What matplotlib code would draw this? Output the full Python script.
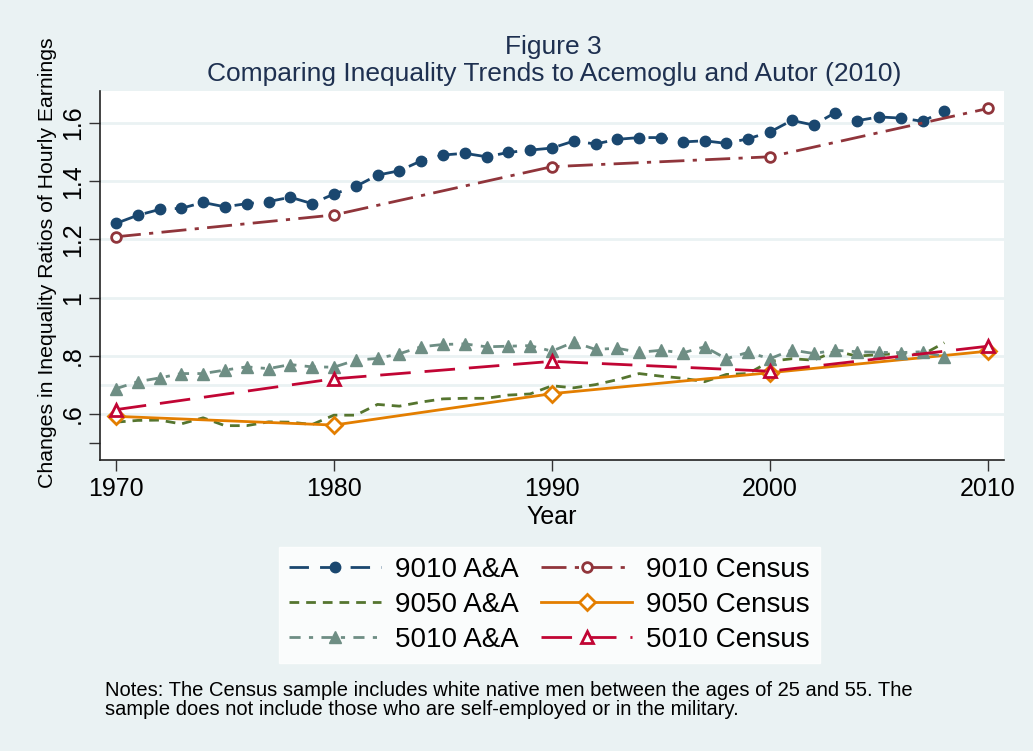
import matplotlib.pyplot as plt
import numpy as np

plt.rcParams['font.family'] = ['Liberation Sans', 'DejaVu Sans']

years_aa = np.arange(1970, 2009)
years_census = [1970, 1980, 1990, 2000, 2010]

aa_9010 = [1.255, 1.283, 1.303, 1.307, 1.327, 1.312, 1.323, 1.330, 1.345, 1.323,
           1.356, 1.382, 1.421, 1.436, 1.470, 1.490, 1.496, 1.484, 1.499, 1.507,
           1.514, 1.538, 1.528, 1.544, 1.550, 1.550, 1.535, 1.539, 1.530, 1.546,
           1.569, 1.609, 1.593, 1.636, 1.608, 1.621, 1.617, 1.606, 1.642]
aa_9050 = [0.572, 0.578, 0.579, 0.566, 0.587, 0.560, 0.560, 0.573, 0.572, 0.564,
           0.596, 0.596, 0.633, 0.627, 0.641, 0.652, 0.654, 0.654, 0.665, 0.669,
           0.697, 0.690, 0.701, 0.718, 0.739, 0.730, 0.723, 0.711, 0.736, 0.739,
           0.781, 0.790, 0.785, 0.816, 0.799, 0.804, 0.808, 0.804, 0.845]
aa_5010 = [0.687, 0.711, 0.724, 0.739, 0.739, 0.751, 0.762, 0.756, 0.770, 0.762,
           0.761, 0.785, 0.791, 0.807, 0.831, 0.839, 0.841, 0.831, 0.833, 0.835,
           0.816, 0.847, 0.822, 0.826, 0.812, 0.819, 0.810, 0.831, 0.790, 0.812,
           0.790, 0.820, 0.808, 0.819, 0.814, 0.812, 0.811, 0.814, 0.797]
census_9010 = [1.209, 1.284, 1.450, 1.484, 1.650]
census_9050 = [0.592, 0.562, 0.670, 0.742, 0.816]
census_5010 = [0.615, 0.721, 0.781, 0.747, 0.833]

bg = '#eaf2f3'
navy = '#1a476f'
maroon = '#90353b'
green = '#55752f'
orange = '#e37e00'
teal = '#6e8e84'
cranberry = '#c10534'

fig = plt.figure(figsize=(10.33, 7.51), dpi=100, facecolor=bg)
ax = fig.add_axes([0.0968, 0.3875, 0.875, 0.4913])
ax.set_facecolor('white')

for g in [0.6, 0.7, 0.8, 1.0, 1.2, 1.4, 1.6]:
    ax.axhline(g, color=bg, lw=2, zorder=0)

lw = 2.0
l1, = ax.plot(years_aa, aa_9010, color=navy, lw=lw, dashes=(7, 4), marker='o',
              ms=7.5, mfc=navy, mec=navy, label='9010 A&A')
l2, = ax.plot(years_census, census_9010, color=maroon, lw=lw, dashes=(9, 3, 1.5, 3),
              marker='o', ms=7, mfc='white', mec=maroon, mew=2, label='9010 Census')
l3, = ax.plot(years_aa, aa_9050, color=green, lw=lw, dashes=(3.5, 2.5), label='9050 A&A')
l4, = ax.plot(years_census, census_9050, color=orange, lw=lw, marker='D', ms=8,
              mfc='white', mec=orange, mew=2, label='9050 Census')
l5, = ax.plot(years_aa, aa_5010, color=teal, lw=lw, dashes=(4, 3, 1.5, 3), marker='^',
              ms=8.5, mfc=teal, mec=teal, label='5010 A&A')
l6, = ax.plot(years_census, census_5010, color=cranberry, lw=lw, dashes=(11, 5),
              marker='^', ms=8, mfc='white', mec=cranberry, mew=2, label='5010 Census')

ax.set_xlim(1969.27, 2010.73)
ax.set_ylim(0.442, 1.71)
ax.set_xticks([1970, 1980, 1990, 2000, 2010])
ax.set_yticks([0.5, 0.6, 0.8, 1.0, 1.2, 1.4, 1.6])
ax.set_yticklabels(['', '.6', '.8', '1', '1.2', '1.4', '1.6'], rotation=90, va='center')
ax.tick_params(axis='both', labelsize=18, length=8, width=1, color='#333333', direction='out')
ax.tick_params(axis='x', pad=4)
ax.tick_params(axis='y', pad=3)
for s in ['top', 'right']:
    ax.spines[s].set_visible(False)
for s in ['left', 'bottom']:
    ax.spines[s].set_color('#222222')
    ax.spines[s].set_linewidth(1.2)

ax.set_xlabel('Year', fontsize=18, labelpad=3)
ax.set_ylabel('Changes in Inequality Ratios of Hourly Earnings', fontsize=15.3)
ax.yaxis.set_label_coords(-0.048, 0.534)

fig.text(0.536, 0.937, 'Figure 3', ha='center', va='center', fontsize=19, color='#1e3050')
fig.text(0.536, 0.902, 'Comparing Inequality Trends to Acemoglu and Autor (2010)',
         ha='center', va='center', fontsize=19, color='#1e3050')

leg = fig.legend([l1, l3, l5, l2, l4, l6],
                 ['9010 A&A', '9050 A&A', '5010 A&A', '9010 Census', '9050 Census', '5010 Census'],
                 ncol=2, loc='center', bbox_to_anchor=(0.532, 0.1945), fontsize=20,
                 frameon=True, fancybox=False, handlelength=3.3, handletextpad=0.5,
                 columnspacing=0.8, labelspacing=0.33, borderpad=0.35, borderaxespad=0)
leg.get_frame().set_facecolor('white')
leg.get_frame().set_edgecolor('white')

fig.text(0.102, 0.068,
         'Notes: The Census sample includes white native men between the ages of 25 and 55. The\n'
         'sample does not include those who are self-employed or in the military.',
         ha='left', va='center', fontsize=14.5, linespacing=0.95)

fig.savefig('out.png', dpi=100, facecolor=bg)
